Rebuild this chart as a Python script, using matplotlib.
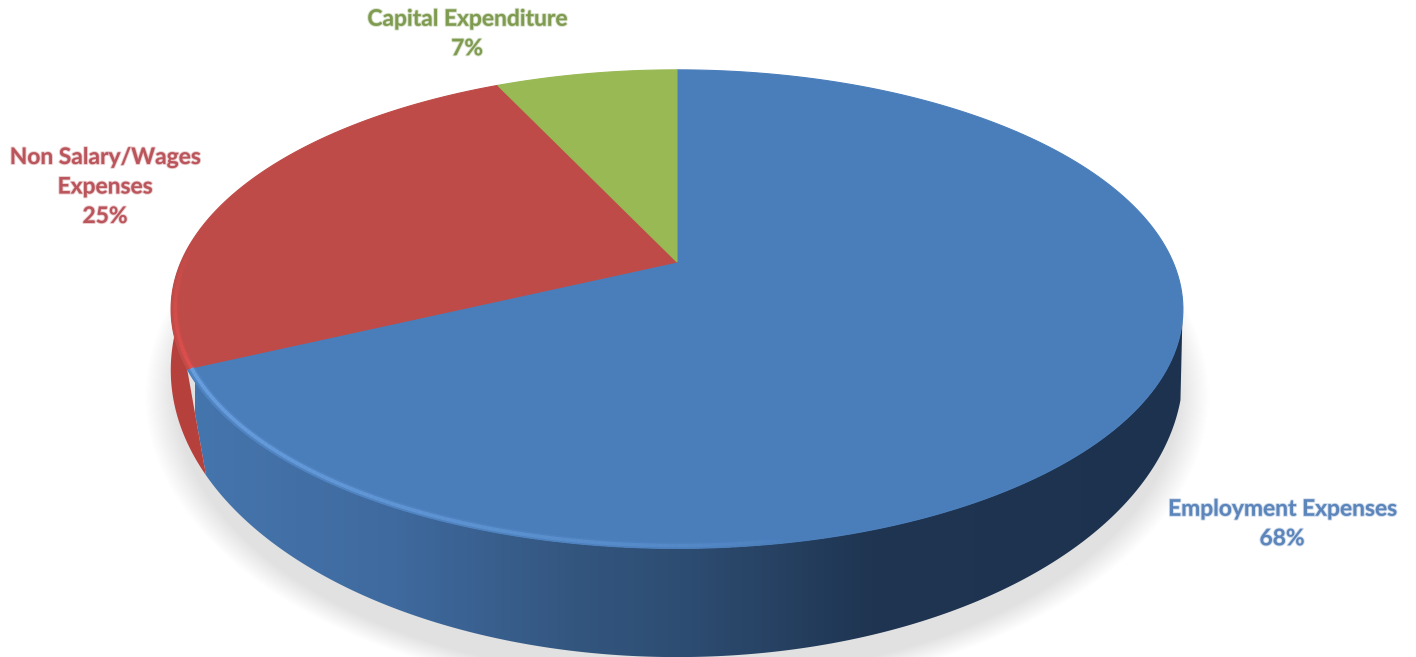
import numpy as np
import matplotlib
matplotlib.use("Agg")
import matplotlib.pyplot as plt
import matplotlib.patheffects as pe
from matplotlib.colors import LinearSegmentedColormap
from matplotlib.patches import Polygon

labels = ["Employment Expenses\n68%", "Non Salary/Wages\nExpenses\n25%", "Capital Expenditure\n7%"]
values = [68, 25, 7]
colors = ["#4a7ebb", "#be4b48", "#98b954"]
text_colors = ["#5b85bb", "#bb555c", "#7f9b50"]
label_xy = [(1282, 524), (105, 187), (467, 34)]

plt.rcParams["font.family"] = ["Lato", "DejaVu Sans"]

fig = plt.figure(figsize=(14.16, 6.57), dpi=100)
ax = fig.add_axes([0, 0, 1, 1])
ax.set_xlim(0, 1416)
ax.set_ylim(657, 0)
ax.axis("off")


# circle angle (clockwise from top, degrees) -> picture coords, with perspective
def top_rim(t, r=1.0):
    t = np.radians(t)
    u, v = r * np.sin(t), r * np.cos(t)
    w = 1 + 0.197 * v
    return 677 + 496 * u / w, 262 - 230 * v / w


def low_rim(t):
    t = np.radians(t)
    u, v = np.sin(t), np.cos(t)
    w = 1 + 0.07 * v
    return 677 + 505 * u / w, 350 - 285.6 * v / w


edges = np.concatenate([[0], np.cumsum(values)]) / sum(values) * 360

# soft shadow under the disc
tt = np.linspace(0, 360, 361)
sx, sy = low_rim(tt)
for grow in np.linspace(1.05, 0.99, 30):
    ax.fill(677 + (sx - 677) * grow, 375 + (sy - 350) * grow, color="#8a8a80", alpha=0.009, lw=0, zorder=1)

# side wall, blue part has the left to right shading
t_blue = np.linspace(100, edges[1], 300)
xa, ya = top_rim(t_blue)
xb, yb = low_rim(t_blue)
side_blue = Polygon(np.column_stack([np.r_[xa, xb[::-1]], np.r_[ya, yb[::-1]]]), closed=True, fc="none", ec="none")
ax.add_patch(side_blue)
cmap = LinearSegmentedColormap.from_list("side", [
    (0.0, "#4575ad"), (0.2, "#3f6a9f"), (0.38, "#33567f"), (0.5, "#2d4c71"),
    (0.68, "#1f3552"), (1.0, "#1d324e")])
im = ax.imshow(np.linspace(0, 1, 500).reshape(1, -1), cmap=cmap, extent=[195, 1190, 657, 0], aspect="auto", zorder=2)
im.set_clip_path(side_blue)

t_red = np.linspace(edges[1], 275, 60)
xa, ya = top_rim(t_red)
xb, yb = low_rim(t_red)
ax.fill(np.r_[xa, xb[::-1]], np.r_[ya, yb[::-1]], color="#b5403c", lw=0, zorder=2)

# top face
for i in range(len(values)):
    t = np.linspace(edges[i], edges[i + 1], 200)
    x, y = top_rim(t)
    ax.fill(np.r_[677, x], np.r_[262, y], color=colors[i], lw=0.8, zorder=3)

# bevel highlights on the rim
t_hi = np.linspace(edges[1], 170, 120)
x, y = top_rim(t_hi, 0.992)
for j in range(len(t_hi) - 1):
    fade = (1 - j / 119) ** 0.6
    ax.plot(x[j:j + 2], y[j:j + 2], color="#6fa5e6", lw=5, alpha=0.2 * fade, solid_capstyle="butt", zorder=4)
    ax.plot(x[j:j + 2], y[j:j + 2], color="#6fa5e6", lw=2.6, alpha=0.8 * fade, solid_capstyle="butt", zorder=4)
t_hi = np.linspace(edges[1], 275, 40)
x, y = top_rim(t_hi, 0.992)
for j in range(len(t_hi) - 1):
    fade = 1 - j / 39
    ax.plot(x[j:j + 2], y[j:j + 2], color="#e5504f", lw=5, alpha=0.2 * fade, solid_capstyle="butt", zorder=4)
    ax.plot(x[j:j + 2], y[j:j + 2], color="#e5504f", lw=2.6, alpha=0.8 * fade, solid_capstyle="butt", zorder=4)

for i in range(len(values)):
    ax.text(label_xy[i][0], label_xy[i][1], labels[i], color=text_colors[i], fontsize=16.4, fontweight="bold",
            ha="center", va="center", linespacing=1.5, zorder=5,
            path_effects=[pe.withStroke(linewidth=1.4, foreground=text_colors[i], alpha=0.3)])

fig.savefig("out.png", dpi=100)
